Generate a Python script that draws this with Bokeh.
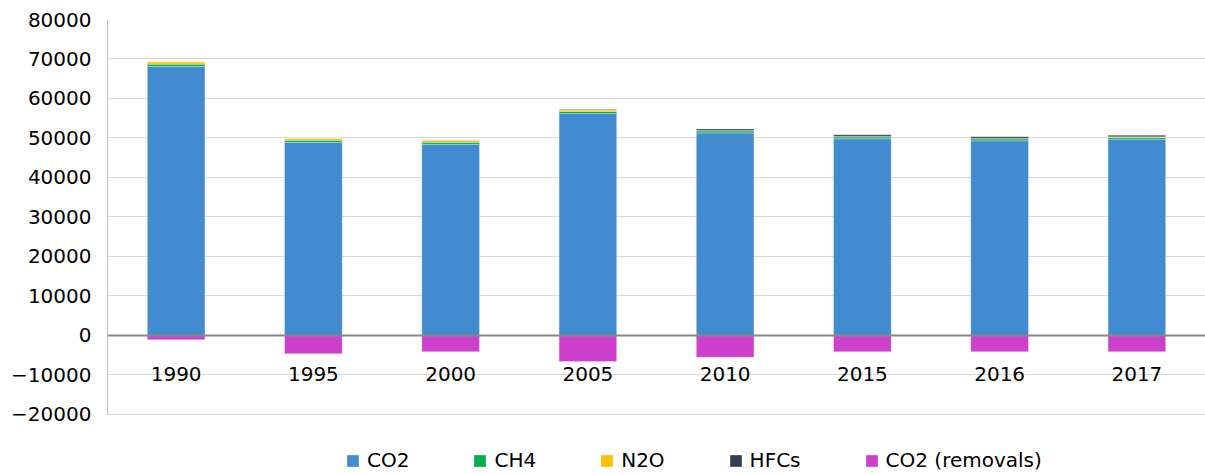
from bokeh.plotting import figure
from bokeh.models import FactorRange, Range1d, FixedTicker, Span, Legend
from bokeh.core.properties import value
from bokeh.embed import file_html
from bokeh.resources import INLINE

years = ["1990", "1995", "2000", "2005", "2010", "2015", "2016", "2017"]
co2 = [68100, 48900, 48400, 56200, 51300, 49800, 49300, 49700]
ch4 = [600, 500, 500, 500, 500, 450, 450, 450]
n2o = [600, 450, 450, 450, 100, 150, 150, 150]
hfcs = [0, 50, 50, 100, 400, 400, 400, 400]
co2_removals = [-1100, -4600, -4100, -6600, -5500, -4100, -4100, -4100]
y_ticks = [-20000, -10000, 0, 10000, 20000, 30000, 40000, 50000, 60000, 70000, 80000]

colors = {"CO2": "#428bd0", "CH4": "#00b050", "N2O": "#ffc000",
          "HFCs": "#333f50", "CO2 (removals)": "#cc40cc"}
FONT = "DejaVu Sans"

data = dict(year=years, CO2=co2, CH4=ch4, N2O=n2o, HFCs=hfcs, rem=co2_removals,
            zero=[0] * len(years))

p = figure(width=1205, height=474, output_backend="svg", toolbar_location=None,
           x_range=FactorRange(factors=years, start=0, end=7.93),
           y_range=Range1d(-35190, 80000),
           min_border_left=107, min_border_top=19, min_border_right=0,
           min_border_bottom=0)
p.outline_line_color = None

stack_names = ["CO2", "CH4", "N2O", "HFCs"]
r = p.vbar_stack(stack_names, x="year", width=0.42, source=data,
                 color=[colors[n] for n in stack_names],
                 line_color="white", line_alpha=0.3, line_width=1)
rr = p.vbar(x="year", top="rem", bottom=0, width=0.42, source=data,
            fill_color=colors["CO2 (removals)"], line_color="white",
            line_alpha=0.3, line_width=1)

p.add_layout(Span(location=0, dimension="width", line_color="#888888", line_width=2))

p.text(x="year", y="zero", text="year", source=data, y_offset=39,
       text_align="center", text_baseline="middle",
       text_font=value(FONT), text_font_size="20px", text_color="#000000")

items = [(n, [g]) for n, g in zip(stack_names, r)] + [("CO2 (removals)", [rr])]
legend = Legend(items=items, orientation="horizontal", location=(238, 2),
                padding=0, margin=0, spacing=63, glyph_width=15, glyph_height=15,
                label_standoff=7, label_height=20,
                label_text_font=FONT, label_text_font_size="20px",
                label_text_color="#000000", background_fill_alpha=0,
                border_line_color=None)
p.add_layout(legend, "center")

p.yaxis.ticker = FixedTicker(ticks=y_ticks)
p.yaxis.bounds = (-20000, 80000)
p.yaxis.major_label_text_font = FONT
p.yaxis.major_label_text_font_size = "20px"
p.yaxis.major_label_text_color = "#000000"
p.yaxis.major_tick_line_color = None
p.yaxis.minor_tick_line_color = None
p.yaxis.axis_line_color = "#bfbfbf"
p.yaxis.major_label_standoff = 10

p.xaxis.visible = False
p.xgrid.grid_line_color = None
p.ygrid.ticker = FixedTicker(ticks=y_ticks)
p.ygrid.grid_line_color = "#d9d9d9"
p.ygrid.grid_line_width = 1
p.ygrid.bounds = (-20000, 75000)

open("out.html", "w").write(file_html(p, INLINE))
